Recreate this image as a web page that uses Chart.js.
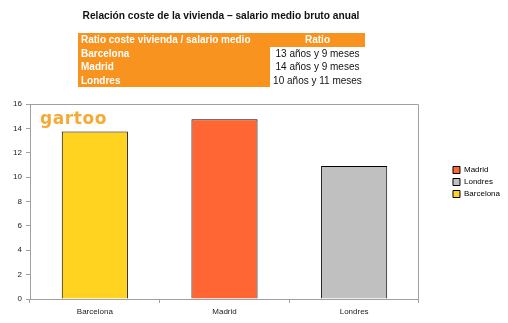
<!DOCTYPE html>
<html lang="es">
<head>
<meta charset="utf-8">
<script src="https://cdn.jsdelivr.net/npm/chart.js@4/dist/chart.umd.min.js"></script>
<style>
    html, body { margin: 0; padding: 0; background: #fff; }
    body { width: 508px; height: 323px; position: relative; overflow: hidden; font-family: "Liberation Sans", Arial, sans-serif; }
    #ratio-chart { position: absolute; left: 0; top: 0; }
    .title { position: absolute; left: 0; width: 442px; top: 10px; text-align: center; font-size: 10.2px; font-weight: bold; color: #111; }
    table.ratios { position: absolute; left: 78px; top: 33px; border-collapse: collapse; font-size: 10px; }
    table.ratios td { padding: 0 3px; height: 13.5px; line-height: 13.5px; }
    table.ratios td.name { background: #f7931e; color: #fff; font-weight: bold; width: 186px; }
    table.ratios td.value { text-align: center; width: 89px; color: #111; }
    table.ratios tr.head td { background: #f7931e; color: #fff; font-weight: bold; }
    .logo { position: absolute; left: 40px; top: 108px; font-family: "DejaVu Sans", sans-serif; font-weight: bold; font-size: 17px; color: #f4aa35; letter-spacing: 0.6px; }
</style>
</head>
<body>
<canvas id="ratio-chart" width="508" height="323"></canvas>
<div class="title">Relación coste de la vivienda – salario medio bruto anual</div>
<table class="ratios" id="ratio-table"></table>
<div class="logo">gartoo</div>
<script>
const cities = ['Barcelona', 'Madrid', 'Londres'];
const ratioYears = [13, 14, 10];
const ratioMonths = [9, 9, 11];
const barColors = ['#ffd320', '#ff6633', '#c0c0c0'];
const legendOrder = ['Madrid', 'Londres', 'Barcelona'];
const yTicks = [0, 2, 4, 6, 8, 10, 12, 14, 16];

const ratioValues = ratioYears.map((y, i) => y + ratioMonths[i] / 12);
const ratioText = ratioYears.map((y, i) => `${y} años y ${ratioMonths[i]} meses`);

function buildTable() {
    const table = document.getElementById('ratio-table');
    let html = '<tr class="head"><td class="name">Ratio coste vivienda / salario medio</td><td class="value" style="color:#fff">Ratio</td></tr>';
    cities.forEach((city, i) => {
        html += `<tr><td class="name">${city}</td><td class="value">${ratioText[i]}</td></tr>`;
    });
    table.innerHTML = html;
}

// grey frame around the plot area
const frame = {
    id: 'frame',
    beforeDatasetsDraw(chart) {
        const { ctx, chartArea: a } = chart;
        ctx.save();
        ctx.strokeStyle = '#a0a0a0';
        ctx.lineWidth = 1;
        ctx.beginPath();
        ctx.moveTo(a.left + 0.5, a.top + 0.5);
        ctx.lineTo(a.right - 0.5, a.top + 0.5);
        ctx.lineTo(a.right - 0.5, a.bottom);
        ctx.stroke();
        ctx.restore();
    }
};

// push the legend away from the plot, next to the middle of it
const legendShift = {
    id: 'legendShift',
    afterLayout(chart) {
        const legend = chart.legend;
        legend.left += 30;
        legend.top += 58;
        legend.right = chart.width;
        legend.bottom = chart.height;
    }
};

function renderChart() {
    const ctx = document.getElementById('ratio-chart').getContext('2d');
    return new Chart(ctx, {
        type: 'bar',
        data: {
            labels: cities,
            datasets: [{
                label: 'Ratio',
                data: ratioValues,
                backgroundColor: barColors,
                borderColor: '#000',
                borderWidth: 1,
                barPercentage: 1,
                categoryPercentage: 0.51
            }]
        },
        options: {
            responsive: false,
            animation: false,
            layout: { padding: { top: 104, left: 0, right: 28, bottom: 0 } },
            plugins: {
                tooltip: { enabled: false },
                legend: {
                    position: 'right',
                    align: 'start',
                    fullSize: false,
                    labels: {
                        boxWidth: 7,
                        boxHeight: 7,
                        padding: 4,
                        color: '#222',
                        font: { family: 'Liberation Sans', size: 8 },
                        generateLabels: () => legendOrder.map((name) => ({
                            text: name,
                            fillStyle: barColors[cities.indexOf(name)],
                            strokeStyle: '#000',
                            lineWidth: 1,
                            hidden: false
                        }))
                    }
                }
            },
            scales: {
                x: {
                    afterFit: (scale) => { scale.height = 24; },
                    grid: { display: true, drawOnChartArea: false, offset: true, tickLength: 4, color: '#a0a0a0' },
                    border: { color: '#a0a0a0' },
                    ticks: { color: '#222', padding: 4, font: { family: 'Liberation Sans', size: 8 } }
                },
                y: {
                    min: 0,
                    max: 16,
                    afterFit: (scale) => { scale.width = 30; },
                    afterBuildTicks: (scale) => { scale.ticks = yTicks.map((v) => ({ value: v })); },
                    grid: { display: true, drawOnChartArea: false, tickLength: 4, color: '#a0a0a0' },
                    border: { color: '#a0a0a0' },
                    ticks: { color: '#222', padding: 4, font: { family: 'Liberation Sans', size: 8 } }
                }
            }
        },
        plugins: [frame, legendShift]
    });
}

buildTable();
renderChart();
</script>
</body>
</html>
